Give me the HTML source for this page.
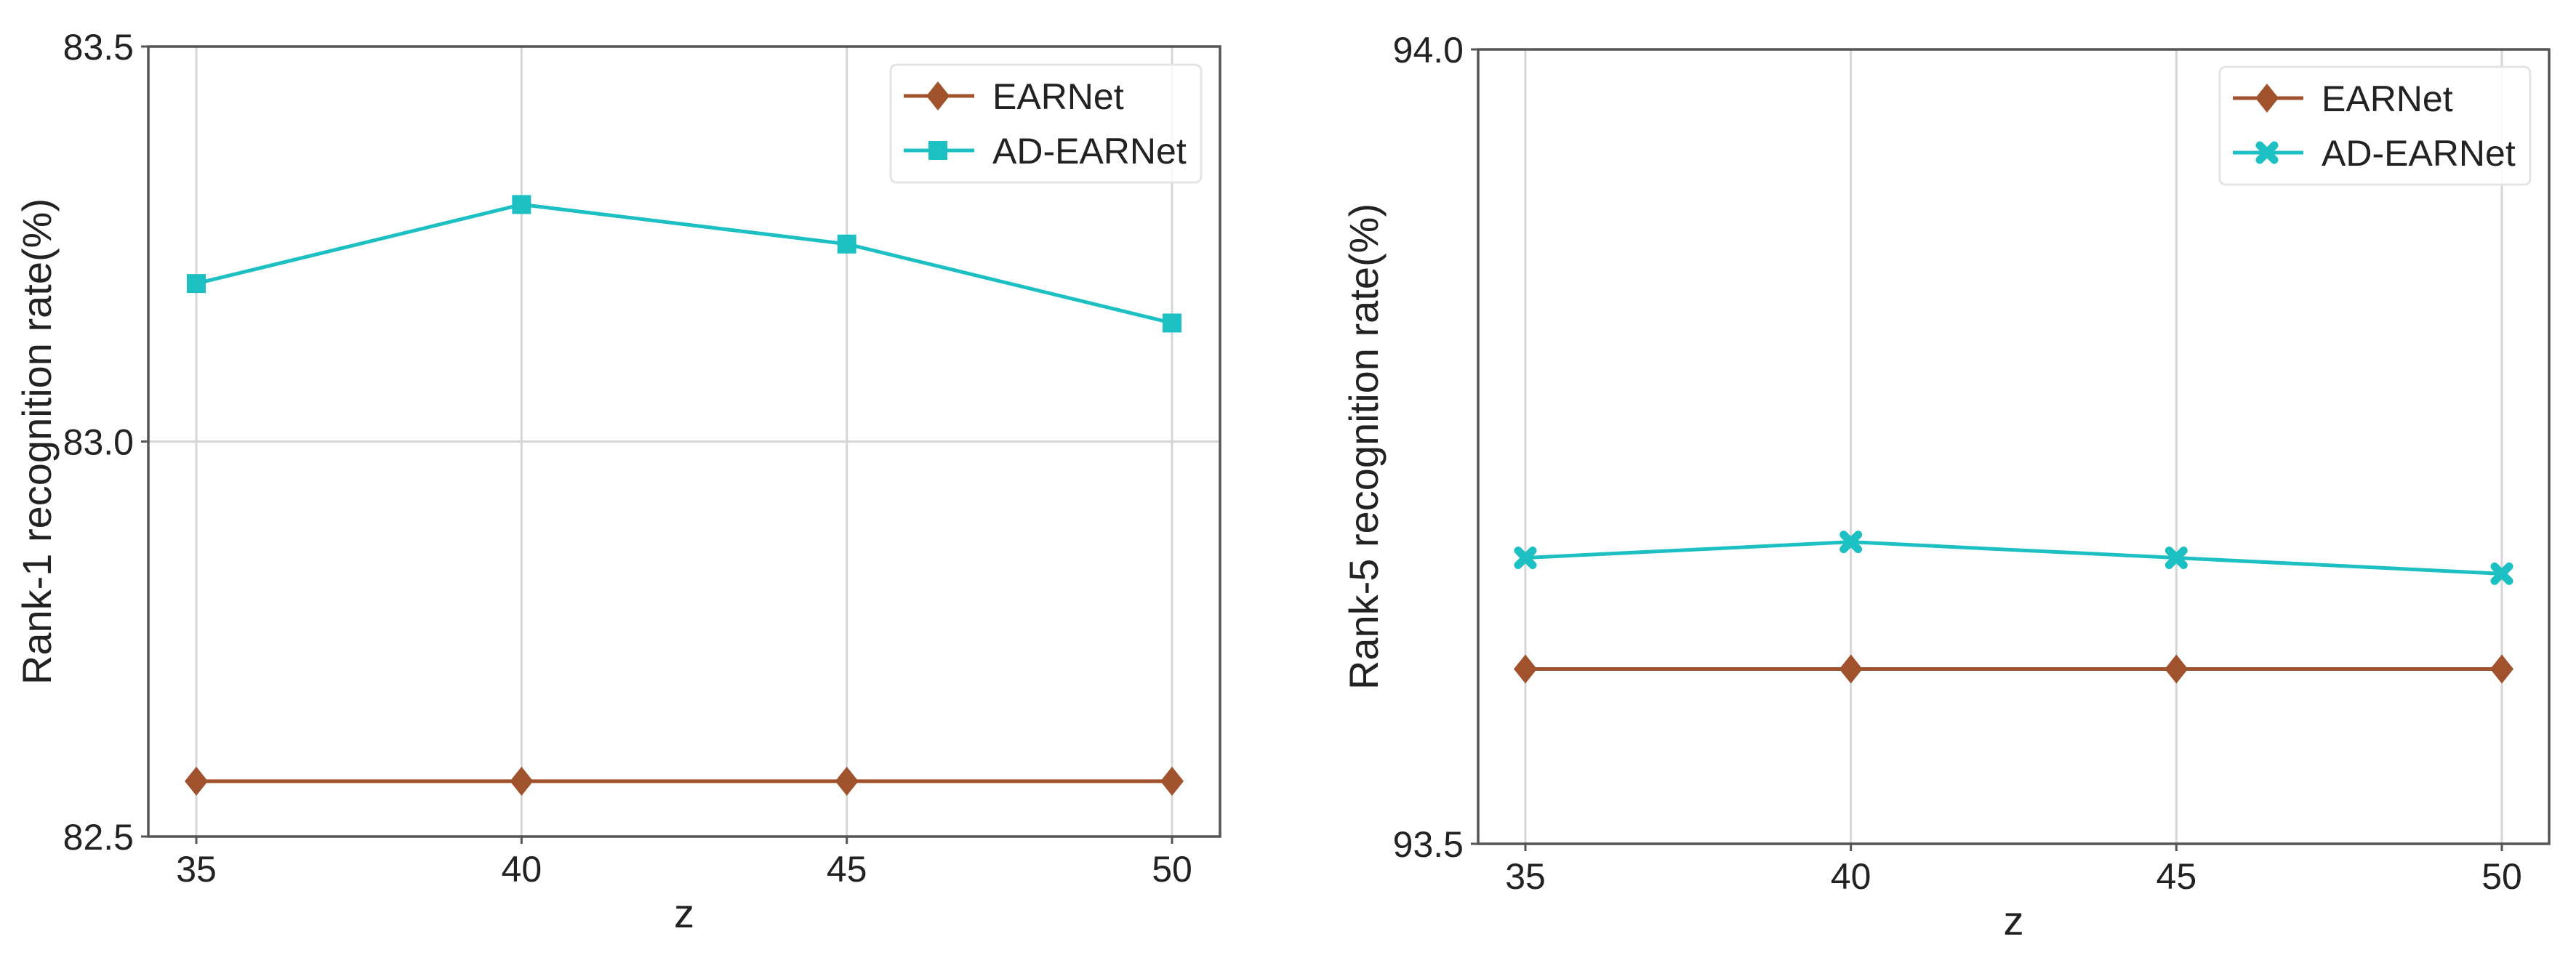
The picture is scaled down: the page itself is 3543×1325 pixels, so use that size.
<!DOCTYPE html>
<html><head><meta charset="utf-8"><style>
html,body{margin:0;padding:0;background:#fff;}
svg{display:block;font-family:"Liberation Sans","DejaVu Sans",sans-serif;}
</style></head><body>
<svg id="chart" width="3543" height="1325" viewBox="0 0 3543 1325" xmlns="http://www.w3.org/2000/svg"></svg>
<script>
const categories = [35, 40, 45, 50];
const leftEARNet = [82.57, 82.57, 82.57, 82.57];
const leftADEARNet = [83.2, 83.3, 83.25, 83.15];
const rightEARNet = [93.61, 93.61, 93.61, 93.61];
const rightADEARNet = [93.68, 93.69, 93.68, 93.67];
const leftYTicks = [82.5, 83.0, 83.5];
const rightYTicks = [93.5, 94.0];
const seriesNames = ["EARNet", "AD-EARNet"];

const NS = "http://www.w3.org/2000/svg";
const svg = document.getElementById("chart");
const BROWN = "#a0522d", CYAN = "#1cc0c2";
function mk(tag, attrs, parent){
  const e = document.createElementNS(NS, tag);
  for (const k in attrs) e.setAttribute(k, attrs[k]);
  (parent || svg).appendChild(e);
  return e;
}
function panel(cfg){
  const g = mk("g", {});
  
  
  const xs = v => cfg.x0 + (v - 35) / 15 * (cfg.x50 - cfg.x0);
  const ys = v => cfg.bottom - (v - cfg.ymin) / (cfg.ymax - cfg.ymin) * (cfg.bottom - cfg.top);
  // grid
  categories.forEach(c => {
    const l = mk("line", {x1: xs(c), x2: xs(c), y1: cfg.top, y2: cfg.bottom, stroke: "#d6d6d6", "stroke-width": 3}, g);
    
    
    const t = mk("line", {x1: xs(c), x2: xs(c), y1: cfg.bottom, y2: cfg.bottom + 10, stroke: "#555", "stroke-width": 3}, g);
    
    
    const tx = mk("text", {x: xs(c), y: cfg.bottom + 62, "font-size": 50, "text-anchor": "middle", fill: "#222"}, g);
    tx.textContent = c;
    
    
  });
  cfg.yticks.forEach(v => {
    const y = ys(v);
    if (v > cfg.ymin && v < cfg.ymax) {
      const l = mk("line", {x1: cfg.left, x2: cfg.right, y1: y, y2: y, stroke: "#d6d6d6", "stroke-width": 3}, g);
      
      
    }
    const t = mk("line", {x1: cfg.left - 10, x2: cfg.left, y1: y, y2: y, stroke: "#555", "stroke-width": 3}, g);
    
    
    const tx = mk("text", {x: cfg.left - 20, y: y + 18, "font-size": 50, "text-anchor": "end", fill: "#222"}, g);
    tx.textContent = v.toFixed(1);
    
    
  });
  const frame = mk("rect", {x: cfg.left, y: cfg.top, width: cfg.right - cfg.left, height: cfg.bottom - cfg.top, fill: "none", stroke: "#555", "stroke-width": 3.5}, g);
  
  
  // series
  function drawMarker(kind, x, y, color, parent){
    let m;
    if (kind === "diamond") m = mk("polygon", {points: `${x},${y-20} ${x+16},${y} ${x},${y+20} ${x-16},${y}`, fill: color}, parent);
    else if (kind === "square") m = mk("rect", {x: x-13, y: y-13, width: 26, height: 26, fill: color}, parent);
    else {
      const s = 10, w = 7;
      m = mk("path", {d: `M${x-s},${y-s}L${x+s},${y+s}M${x+s},${y-s}L${x-s},${y+s}`, stroke: color, "stroke-width": w+4, "stroke-linecap": "round", fill: "none"}, parent);
    }
    return m;
  }
  const series = [[cfg.s1, BROWN, "diamond", "earnet"], [cfg.s2, CYAN, cfg.m2, "ad-earnet"]];
  series.forEach(([vals, color, mark, nm]) => {
    const pts = vals.map((v, i) => xs(categories[i]) + "," + ys(v)).join(" ");
    const pl = mk("polyline", {points: pts, fill: "none", stroke: color, "stroke-width": 5}, g);
    
    
    vals.forEach((v, i) => {
      const m = drawMarker(mark, xs(categories[i]), ys(v), color, g);
      
      
    });
  });
  // legend
  const lg = mk("g", {}, g);
  
  
  const box = mk("rect", {x: cfg.lgx, y: cfg.lgy, width: cfg.lgw, height: 162, rx: 8, fill: "#fff", "fill-opacity": 0.85, stroke: "#e4e4e4", "stroke-width": 3}, lg);
  
  
  [[BROWN, "diamond", 0], [CYAN, cfg.m2, 1]].forEach(([color, mark, i]) => {
    const yy = cfg.lgy + 43 + i * 75;
    const e = mk("g", {}, lg);
    
    
    mk("line", {x1: cfg.lgx + 18, x2: cfg.lgx + 115, y1: yy, y2: yy, stroke: color, "stroke-width": 5}, e);
    drawMarker(mark, cfg.lgx + 65, yy, color, e);
    const t = mk("text", {x: cfg.lgx + 140, y: yy + 18, "font-size": 50, fill: "#222"}, e);
    t.textContent = seriesNames[i];
  });
  const yl = mk("text", {x: cfg.ylx, y: (cfg.top + cfg.bottom) / 2, "font-size": 56, "text-anchor": "middle", fill: "#222", transform: `rotate(-90 ${cfg.ylx} ${(cfg.top + cfg.bottom) / 2})`}, g);
  yl.textContent = cfg.ylabel;
  
  
  const xl = mk("text", {x: (cfg.left + cfg.right) / 2, y: cfg.bottom + 125, "font-size": 56, "text-anchor": "middle", fill: "#222"}, g);
  xl.textContent = "z";
  
  
}
panel({name: "rank1-chart", left: 204, right: 1678, top: 64, bottom: 1151, x0: 270, x50: 1612,
  ymin: 82.5, ymax: 83.5, yticks: leftYTicks, s1: leftEARNet, s2: leftADEARNet, m2: "square",
  lgx: 1225, lgy: 89, lgw: 427, ylx: 70, ylabel: "Rank-1 recognition rate(%)"});
panel({name: "rank5-chart", left: 2033, right: 3506, top: 68, bottom: 1161, x0: 2098, x50: 3441,
  ymin: 93.5, ymax: 94.0, yticks: rightYTicks, s1: rightEARNet, s2: rightADEARNet, m2: "x",
  lgx: 3053, lgy: 92, lgw: 427, ylx: 1895, ylabel: "Rank-5 recognition rate(%)"});
</script>
</body></html>
